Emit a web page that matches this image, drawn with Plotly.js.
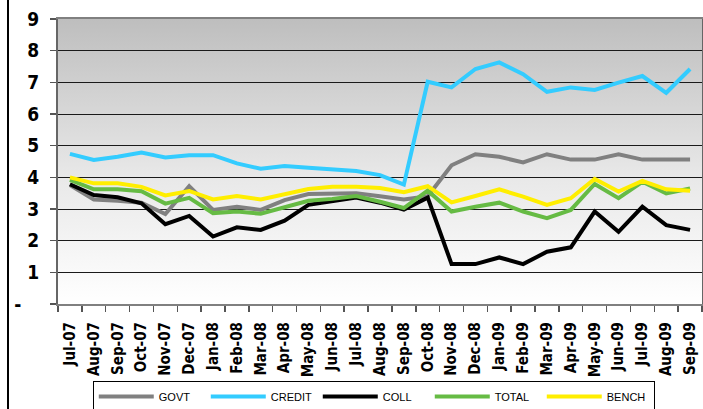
<!DOCTYPE html>
<html>
<head>
<meta charset="utf-8">
<script src="https://cdn.plot.ly/plotly-3.0.1.min.js"></script>
<style>
  html, body { margin: 0; padding: 0; background: #ffffff; }
  #wrap { position: relative; width: 703px; height: 409px; overflow: hidden; }
  #frame { position: absolute; left: 7px; top: 0; width: 2px; height: 409px; background: #000; z-index: 5; }
  #chart { width: 703px; height: 409px; }
</style>
</head>
<body>
<div id="wrap">
  <div id="chart"></div>
  <div id="frame"></div>
</div>
<script>
const months = ['Jul-07','Aug-07','Sep-07','Oct-07','Nov-07','Dec-07','Jan-08','Feb-08','Mar-08','Apr-08','May-08','Jun-08','Jul-08','Aug-08','Sep-08','Oct-08','Nov-08','Dec-08','Jan-09','Feb-09','Mar-09','Apr-09','May-09','Jun-09','Jul-09','Aug-09','Sep-09'];

const govt   = [3.76, 3.30, 3.26, 3.20, 2.84, 3.72, 2.97, 3.07, 2.97, 3.28, 3.47, 3.47, 3.50, 3.40, 3.30, 3.40, 4.38, 4.73, 4.65, 4.47, 4.73, 4.56, 4.56, 4.73, 4.56, 4.56, 4.56];
const credit = [4.74, 4.55, 4.65, 4.78, 4.63, 4.70, 4.70, 4.44, 4.27, 4.36, 4.30, 4.26, 4.20, 4.07, 3.77, 7.02, 6.84, 7.42, 7.63, 7.26, 6.70, 6.84, 6.76, 6.99, 7.20, 6.67, 7.42];
const coll   = [3.78, 3.44, 3.37, 3.18, 2.52, 2.78, 2.13, 2.42, 2.34, 2.63, 3.13, 3.24, 3.36, 3.20, 2.98, 3.36, 1.26, 1.26, 1.47, 1.26, 1.65, 1.79, 2.92, 2.28, 3.07, 2.49, 2.34];
const total  = [3.92, 3.62, 3.62, 3.56, 3.17, 3.35, 2.87, 2.92, 2.85, 3.05, 3.26, 3.32, 3.41, 3.23, 3.03, 3.58, 2.92, 3.07, 3.20, 2.92, 2.71, 2.97, 3.79, 3.34, 3.86, 3.49, 3.65];
const bench  = [4.00, 3.81, 3.81, 3.70, 3.43, 3.57, 3.30, 3.41, 3.30, 3.45, 3.63, 3.70, 3.70, 3.66, 3.53, 3.72, 3.21, 3.41, 3.62, 3.39, 3.13, 3.34, 3.95, 3.55, 3.89, 3.62, 3.58];

const seriesNames = ['GOVT','CREDIT','COLL','TOTAL','BENCH'];
const seriesColors = ['#808080','#33ccff','#000000','#66bb44','#ffee00'];
const seriesData = [govt, credit, coll, total, bench];

const yTickVals = [0,1,2,3,4,5,6,7,8,9];
const yTickText = ['-\u00a0\u00a0\u00a0','1','2','3','4','5','6','7','8','9'];

const traces = seriesNames.map((n, i) => ({
  type: 'scatter', mode: 'lines', name: n,
  x: months, y: seriesData[i],
  line: { color: seriesColors[i], width: 4 },
  hoverinfo: 'skip'
}));

const gradSvg = '<svg xmlns="http://www.w3.org/2000/svg" width="10" height="100" preserveAspectRatio="none">' +
  '<defs><linearGradient id="g" x1="0" y1="0" x2="0" y2="1">' +
  '<stop offset="0" stop-color="#bebebe"/><stop offset="0.55" stop-color="#e8e8e8"/><stop offset="1" stop-color="#ffffff"/>' +
  '</linearGradient></defs><rect width="10" height="100" fill="url(#g)"/></svg>';

const tickFont = { family: 'DejaVu Sans Condensed, sans-serif', weight: 'bold', color: '#000' };

const layout = {
  width: 703, height: 409,
  margin: { l: 58, r: 1, t: 19, b: 105, pad: 0, autoexpand: false },
  paper_bgcolor: '#ffffff',
  plot_bgcolor: 'rgba(0,0,0,0)',
  showlegend: true,
  images: [{
    source: 'data:image/svg+xml;charset=utf-8,' + encodeURIComponent(gradSvg),
    xref: 'paper', yref: 'paper', x: 0, y: 1, sizex: 1, sizey: 1,
    sizing: 'stretch', layer: 'below', xanchor: 'left', yanchor: 'top'
  }],
  xaxis: {
    type: 'category', categoryorder: 'array', categoryarray: months,
    range: [-0.5, months.length - 0.5],
    tickangle: -90, tickson: 'boundaries',
    ticks: 'outside', ticklen: 6, tickwidth: 1.5, tickcolor: '#555',
    showgrid: false, showline: true, linecolor: '#808080', linewidth: 2, mirror: true,
    tickfont: Object.assign({ size: 15 }, tickFont),
    ticklabelstandoff: 10,
    automargin: false,
    fixedrange: true
  },
  yaxis: {
    range: [0, 9], tickvals: yTickVals, ticktext: yTickText,
    ticks: 'outside', ticklen: 6, tickwidth: 1.5, tickcolor: '#555',
    showgrid: true, gridcolor: '#1a1a1a', gridwidth: 1,
    zeroline: false,
    showline: true, linecolor: '#666', linewidth: 2, mirror: true,
    tickfont: Object.assign({ size: 19 }, tickFont),
    ticklabelstandoff: 7,
    automargin: false,
    fixedrange: true
  },
  legend: {
    orientation: 'h', x: 0.054, xanchor: 'left', y: -0.27, yanchor: 'top',
    bordercolor: '#000', borderwidth: 1, bgcolor: '#ffffff',
    font: { family: 'Liberation Sans, Arial, sans-serif', size: 11, color: '#000' },
    itemwidth: 55, entrywidth: 42, entrywidthmode: 'pixels',
    traceorder: 'normal', tracegroupgap: 0
  }
};

Plotly.newPlot('chart', traces, layout, { staticPlot: true, displayModeBar: false });
</script>
</body>
</html>
